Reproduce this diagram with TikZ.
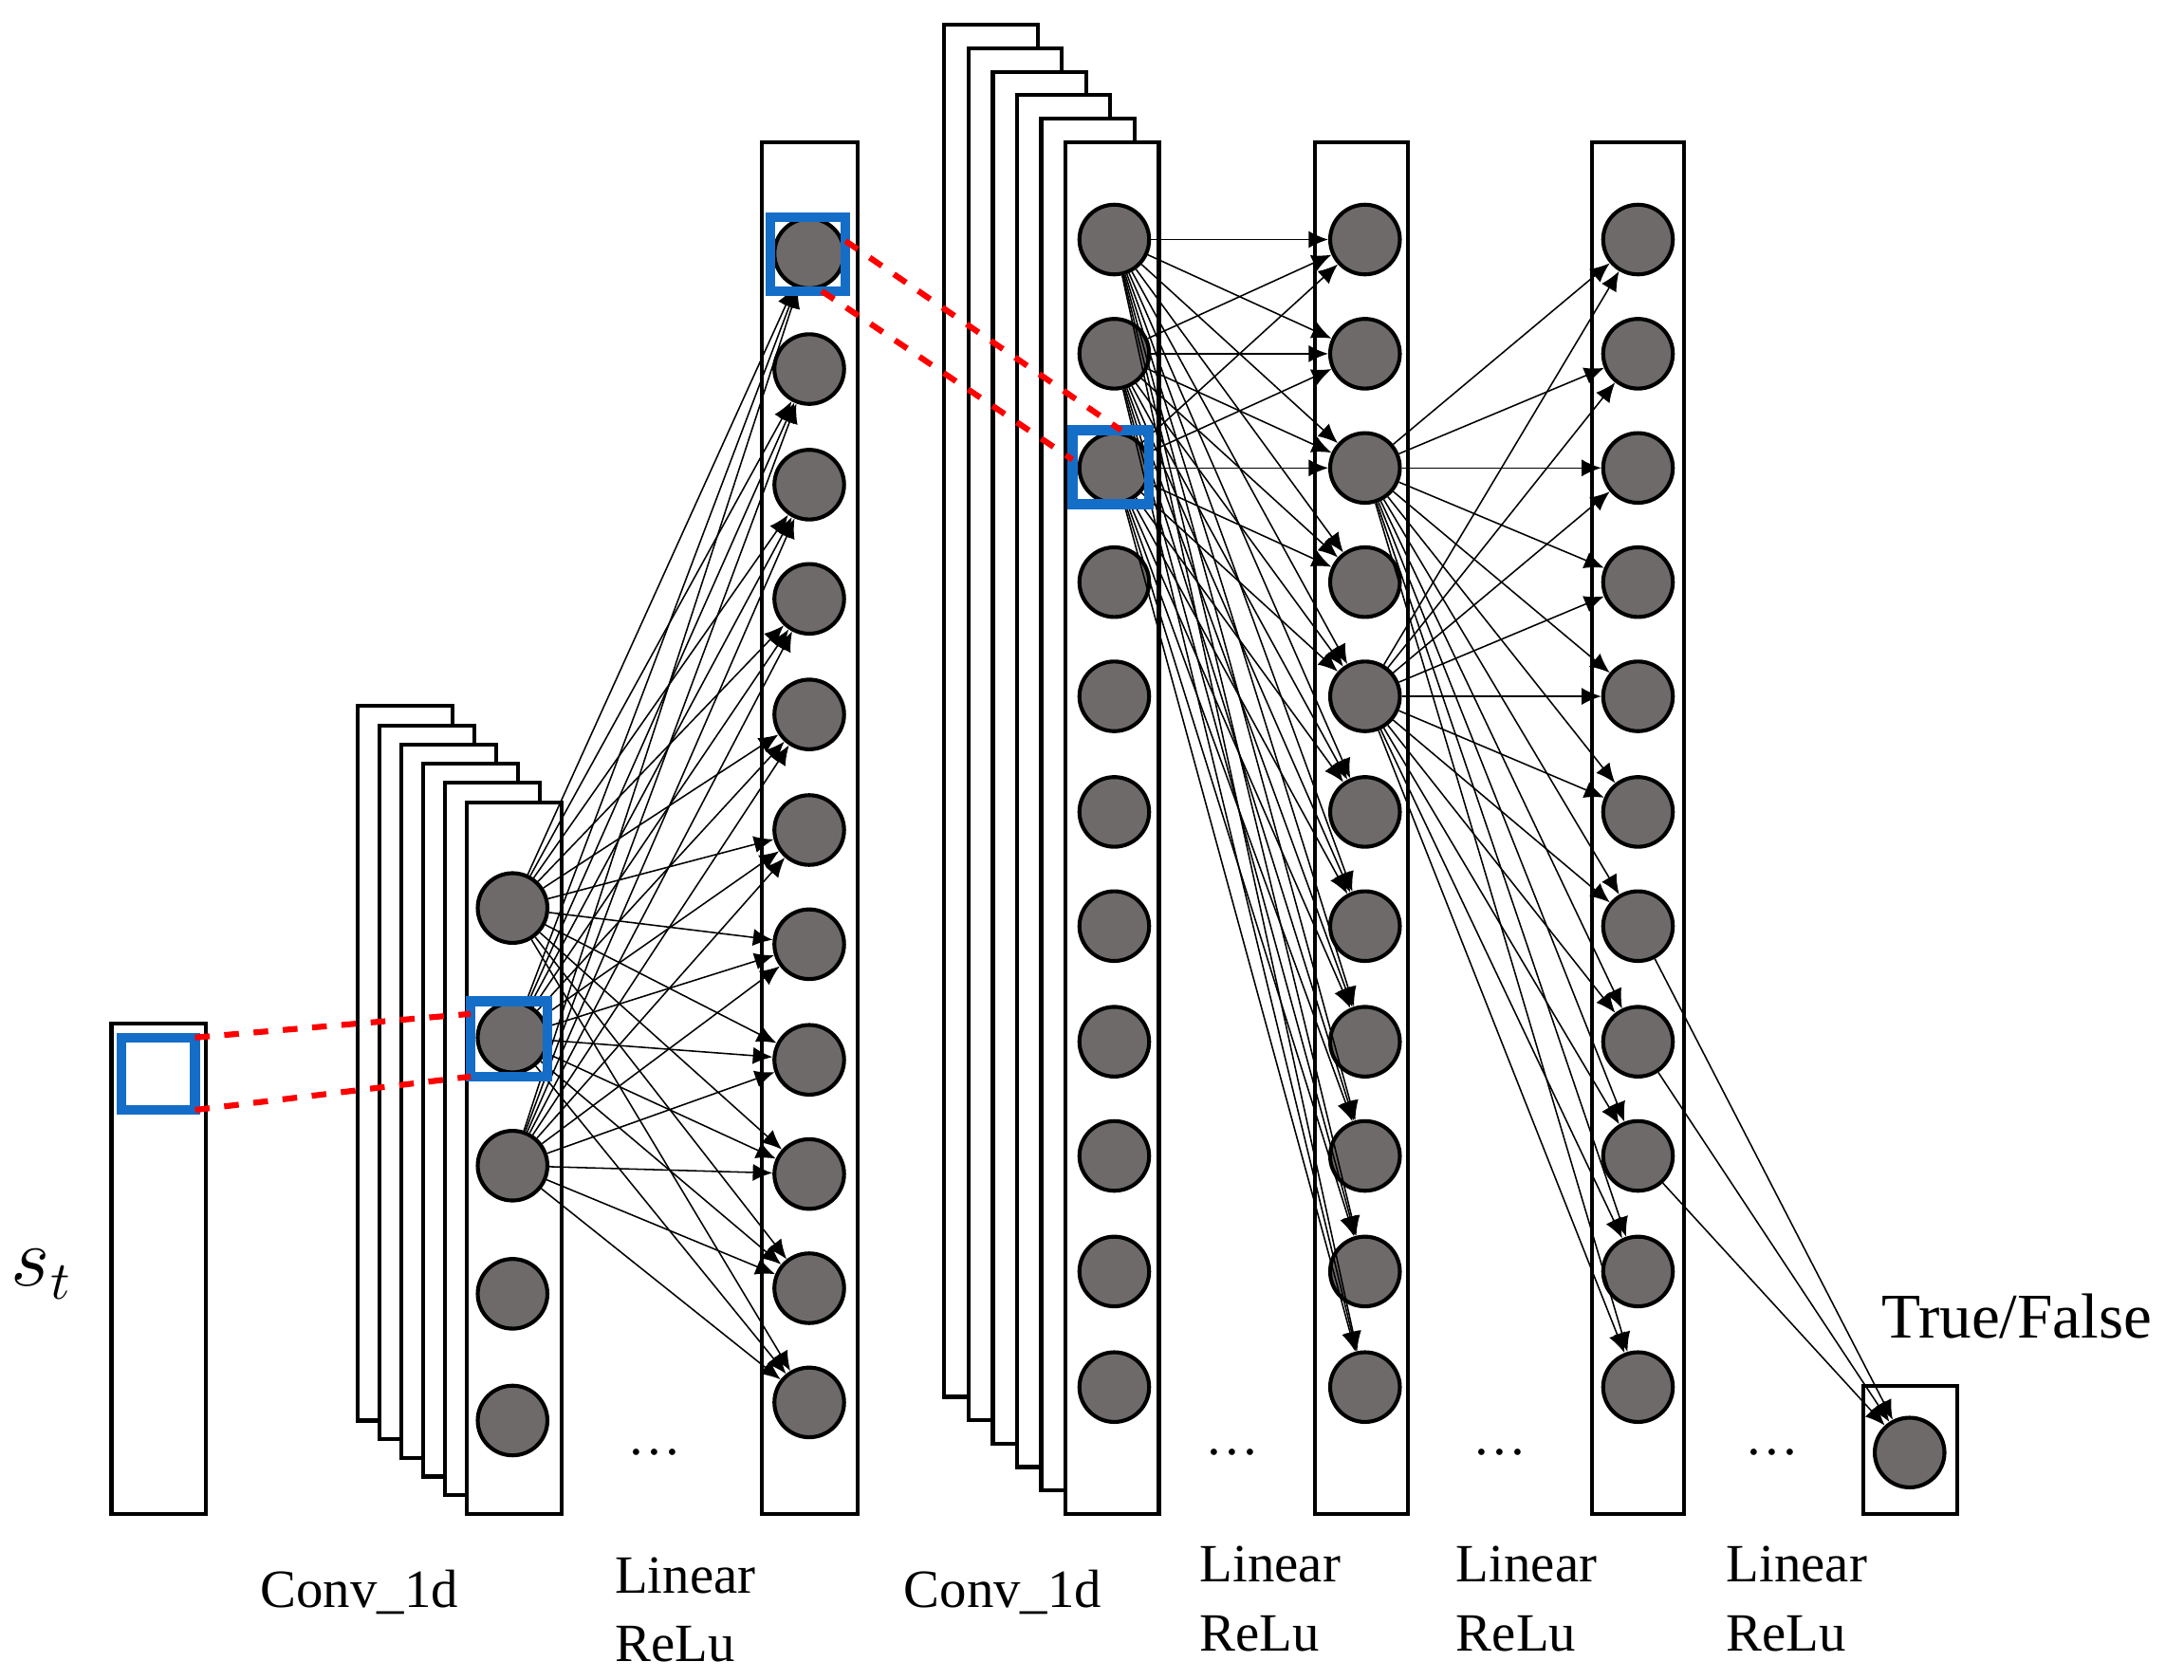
\documentclass[tikz,border=0pt]{standalone}
\usepackage{fontspec}
\setmainfont{Liberation Serif}
\usetikzlibrary{arrows.meta}
\definecolor{neurongray}{RGB}{110,106,106}
\definecolor{boxblue}{RGB}{20,110,200}
\tikzset{
  neuron/.style={circle, draw=black, thick, fill=neurongray, minimum size=0.5cm, inner sep=0pt},
  layer/.style={draw=black, thick, fill=white},
  link/.style={black, line width=0.3pt, -{Latex[length=4pt,width=3.5pt]}},
  pick/.style={draw=boxblue, line width=2pt},
  match/.style={red, dashed, line width=1.2pt},
  lbl/.style={font=\fontsize{11}{14}\selectfont, align=left}
}
\begin{document}
\begin{tikzpicture}[x=0.01cm, y=-0.01cm]
  \useasboundingbox (0,0) rectangle (1568,1206);

  % Input
  \draw[layer] (80,735) rectangle (148,1087);
  \node[font=\fontsize{16}{18}\selectfont] (st) at (30,915) {$s_t$};

  % Conv_1d stack 1
  \foreach \i in {0,...,5} {
    \draw[layer] (257+15.6*\i,507+13.8*\i) rectangle (325+15.6*\i,1020+13.4*\i);
  }
  \foreach \y [count=\i] in {652,745,837,929,1020} {
    \node[neuron] (a\i) at (368,\y) {};
  }

  % Linear 1
  \draw[layer] (547,102) rectangle (616,1087);
  \foreach \y [count=\i] in {182,265,348,430,513,596,678,761,843,925,1007} {
    \node[neuron] (b\i) at (581,\y) {};
  }

  % Conv_1d stack 2
  \foreach \i in {0,...,5} {
    \draw[layer] (678+17.4*\i,18+16.8*\i) rectangle (745+17.4*\i,1003+16.8*\i);
  }
  \foreach \y [count=\i] in {172,254,336,418,500,583,665,748,830,913,996} {
    \node[neuron] (c\i) at (800,\y) {};
    \node[neuron] (d\i) at (980,\y) {};
    \node[neuron] (e\i) at (1176,\y) {};
  }

  % Linear 2 and 3
  \draw[thick] (944,102) rectangle (1011,1087);
  \draw[thick] (1143,102) rectangle (1209,1087);

  % Output
  \draw[thick] (1338,995) rectangle (1405,1087);
  \node[neuron] (out) at (1371,1043) {};
  \node[font=\fontsize{13}{15}\selectfont] (tf) at (1448,945) {True/False};

  % Connections
  \foreach \s in {1,2,3} {
    \foreach \t in {1,...,11} {
      \draw[link] (a\s) -- (b\t);
      \draw[link] (c\s) -- (d\t);
    }
  }
  \foreach \s in {3,5} {
    \foreach \t in {1,...,11} {
      \draw[link] (d\s) -- (e\t);
    }
  }
  \foreach \s in {7,8,9} {
    \draw[link] (e\s) -- (out);
  }

  % Receptive fields
  \draw[pick] (87,745) rectangle (140,797);
  \draw[pick] (338,719) rectangle (393,773);
  \draw[pick] (553,156) rectangle (607,209);
  \draw[pick] (770,309) rectangle (825,362);
  \draw[match] (140,745) -- (338,728);
  \draw[match] (140,797) -- (338,773);
  \draw[match] (607,173) -- (805,309);
  \draw[match] (590,209) -- (770,330);

  % Labels
  \foreach \x in {470,885,1077,1272} {
    \node[lbl] at (\x,1043) {\dots};
  }
  \node[lbl] (k1) at (258,1143) {Conv\_1d};
  \node[lbl] (k2) at (720,1143) {Conv\_1d};
  \node[lbl] (l1) at (492,1156) {Linear\\ReLu};
  \node[lbl] (l2) at (912,1148) {Linear\\ReLu};
  \node[lbl] (l3) at (1096,1148) {Linear\\ReLu};
  \node[lbl] (l4) at (1290,1148) {Linear\\ReLu};
\end{tikzpicture}
\end{document}
